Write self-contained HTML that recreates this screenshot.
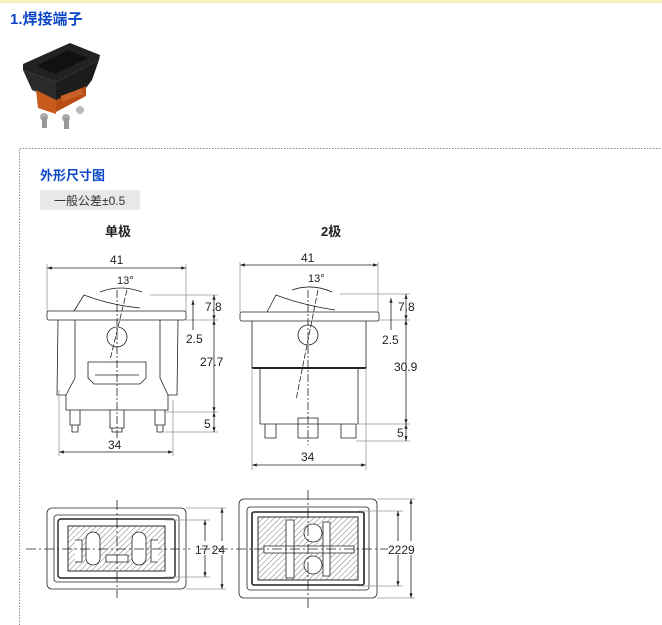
<!DOCTYPE html>
<html><head><meta charset="utf-8"><style>
html,body{margin:0;padding:0;background:#fff;width:662px;height:625px;overflow:hidden}
svg{display:block}
text{font-family:"Liberation Sans","Noto Sans CJK SC",sans-serif}
</style></head><body>
<svg width="662" height="625" viewBox="0 0 662 625" xmlns="http://www.w3.org/2000/svg">
<defs>
<pattern id="h" width="4" height="4" patternUnits="userSpaceOnUse" patternTransform="rotate(45)"><line x1="0" y1="0" x2="0" y2="4" stroke="#444" stroke-width="0.7"/></pattern>
<marker id="a" markerWidth="6" markerHeight="6" refX="6" refY="3" orient="auto-start-reverse"><path d="M0,1 L6,3 L0,5 z" fill="#222"/></marker>
</defs>
<rect x="0" y="0" width="662" height="3" fill="#f8eec0"/>
<text x="10" y="24" font-size="15" font-weight="bold" fill="#0b47c8">1.焊接端子</text>
<!-- photo -->
<g>
<polygon points="23,64 70,43 100,55 99,60 56,82 23,70" fill="#222"/>
<polygon points="36,66 68,50 88,58 56,74" fill="#111"/>
<polygon points="23,70 56,82 56,100 32,90" fill="#2a2a2a"/>
<polygon points="56,82 99,60 92,80 86,88 56,102" fill="#1c1c1c"/>
<polygon points="36,90 56,100 56,114 38,108" fill="#c85a1c"/>
<polygon points="56,100 86,86 86,96 56,112" fill="#b84e14"/>
<rect x="61" y="92" width="22" height="6" fill="#c86028" transform="rotate(-20 72 95)"/>
<circle cx="44" cy="117" r="4" fill="#aaa"/><circle cx="66" cy="118" r="4" fill="#aaa"/><circle cx="80" cy="110" r="4" fill="#bbb"/>
<rect x="42" y="117" width="5" height="11" fill="#999"/><rect x="64" y="118" width="5" height="11" fill="#999"/>
</g>
<path d="M19.5,625 V148.5 H662" fill="none" stroke="#888" stroke-dasharray="1.5,1.5"/>
<text x="40" y="180" font-size="13" font-weight="bold" fill="#0b47c8">外形尺寸图</text>
<rect x="40" y="190" width="100" height="20" fill="#e8e8e8"/>
<text x="54" y="205" font-size="12" fill="#333">一般公差±0.5</text>
<text x="105" y="236" font-size="13" font-weight="bold" fill="#222">单极</text>
<text x="321" y="236" font-size="13" font-weight="bold" fill="#222">2极</text>

<g fill="none" stroke="#222" stroke-width="0.8" font-size="12">
<!-- LEFT SIDE VIEW -->
<line x1="47" y1="268" x2="186" y2="268" marker-start="url(#a)" marker-end="url(#a)"/>
<line x1="47" y1="264" x2="47" y2="312" stroke="#999"/><line x1="186" y1="264" x2="186" y2="312" stroke="#999"/>
<text x="110" y="264" fill="#222" stroke="none">41</text>
<text x="117" y="284" fill="#222" stroke="none" font-size="11">13°</text>
<path d="M100,292 Q120,284 142,292"/>
<rect x="47" y="311" width="139" height="9" rx="2"/>
<path d="M74,311 L84,295 Q110,305 140,308"/>
<path d="M58,320 L57,395 L66,395 L66,410 L168,410 L168,395 L177,395 L178,320"/>
<path d="M66,395 L75,378 L75,320 M168,395 L160,378 L160,320"/>
<path d="M88,362 H146 V378 L140,384 H94 L88,378 Z"/><path d="M95,375 H139"/>
<circle cx="117" cy="337" r="10"/>
<line x1="117" y1="290" x2="117" y2="440" stroke-dasharray="8,2,2,2"/>
<line x1="127" y1="290" x2="110" y2="360" stroke-dasharray="6,2"/>
<path d="M70,410 V425 H80 V410 M110,410 V428 H124 V410 M155,410 V425 H165 V410"/>
<path d="M72,425 V432 H78 V425 M112,428 V432 H122 V428 M157,425 V432 H163 V425"/>
<line x1="59" y1="452" x2="173" y2="452" marker-start="url(#a)" marker-end="url(#a)"/>
<line x1="59" y1="390" x2="59" y2="456" stroke="#999"/><line x1="173" y1="400" x2="173" y2="456" stroke="#999"/>
<text x="108" y="449" fill="#222" stroke="none">34</text>
<line x1="150" y1="295" x2="218" y2="295" stroke="#999"/><line x1="186" y1="320" x2="218" y2="320" stroke="#999"/>
<line x1="165" y1="412" x2="218" y2="412" stroke="#999"/><line x1="165" y1="432" x2="218" y2="432" stroke="#999"/>
<line x1="214" y1="295" x2="214" y2="320" marker-start="url(#a)" marker-end="url(#a)"/>
<line x1="214" y1="320" x2="214" y2="412" marker-start="url(#a)" marker-end="url(#a)"/>
<line x1="214" y1="412" x2="214" y2="432" marker-start="url(#a)" marker-end="url(#a)"/>
<line x1="193" y1="300" x2="193" y2="330" marker-start="url(#a)"/>
<text x="205" y="311" fill="#222" stroke="none">7.8</text>
<text x="186" y="343" fill="#222" stroke="none">2.5</text>
<text x="200" y="366" fill="#222" stroke="none">27.7</text>
<text x="204" y="428" fill="#222" stroke="none">5</text>

<!-- RIGHT SIDE VIEW -->
<line x1="240" y1="265" x2="378" y2="265" marker-start="url(#a)" marker-end="url(#a)"/>
<line x1="240" y1="262" x2="240" y2="312" stroke="#999"/><line x1="378" y1="262" x2="378" y2="312" stroke="#999"/>
<text x="301" y="262" fill="#222" stroke="none">41</text>
<text x="308" y="282" fill="#222" stroke="none" font-size="11">13°</text>
<path d="M292,290 Q312,283 332,292"/>
<rect x="240" y="312" width="139" height="9" rx="2"/>
<path d="M267,312 L276,295 Q302,305 335,310"/>
<path d="M252,321 L252,368 H366 V321"/><line x1="252" y1="368" x2="366" y2="368" stroke-width="2"/>
<path d="M260,368 V424 H358 V368"/>
<circle cx="308" cy="335" r="10"/>
<line x1="308" y1="290" x2="308" y2="445" stroke-dasharray="8,2,2,2"/>
<line x1="318" y1="290" x2="296" y2="400" stroke-dasharray="6,2"/>
<path d="M265,424 V438 H276 V424 M298,418 H318 V438 H298 Z M341,424 V438 H356 V424"/>
<line x1="252" y1="465" x2="366" y2="465" marker-start="url(#a)" marker-end="url(#a)"/>
<line x1="252" y1="368" x2="252" y2="470" stroke="#999"/><line x1="366" y1="368" x2="366" y2="470" stroke="#999"/>
<text x="301" y="461" fill="#222" stroke="none">34</text>
<line x1="340" y1="294" x2="410" y2="294" stroke="#999"/><line x1="379" y1="320" x2="410" y2="320" stroke="#999"/>
<line x1="356" y1="424" x2="410" y2="424" stroke="#999"/><line x1="356" y1="441" x2="410" y2="441" stroke="#999"/>
<line x1="406" y1="294" x2="406" y2="320" marker-start="url(#a)" marker-end="url(#a)"/>
<line x1="406" y1="320" x2="406" y2="424" marker-start="url(#a)" marker-end="url(#a)"/>
<line x1="406" y1="424" x2="406" y2="441" marker-start="url(#a)" marker-end="url(#a)"/>
<line x1="391" y1="298" x2="391" y2="330" marker-start="url(#a)"/>
<text x="398" y="311" fill="#222" stroke="none">7.8</text>
<text x="382" y="344" fill="#222" stroke="none">2.5</text>
<text x="394" y="371" fill="#222" stroke="none">30.9</text>
<text x="397" y="437" fill="#222" stroke="none">5</text>

<!-- BOTTOM LEFT -->
<rect x="47" y="508" width="139" height="81" rx="5"/>
<rect x="54" y="515" width="125" height="67" rx="3"/>
<rect x="58" y="519" width="117" height="59" rx="3" stroke-width="1.4"/>
<rect x="68" y="526" width="97" height="45" fill="url(#h)"/>
<rect x="68" y="526" width="97" height="45"/>
<rect x="86" y="532" width="14" height="33" rx="7" fill="#fff"/>
<rect x="132" y="532" width="14" height="33" rx="7" fill="#fff"/>
<path d="M106,555 H128 V562 H106 Z" fill="#fff"/>
<path d="M75,540 H82 V562 H75" fill="#fff"/><path d="M158,540 H151 V562 H158" fill="#fff"/>
<line x1="26" y1="549" x2="190" y2="549" stroke-dasharray="10,3,2,3"/>
<line x1="117" y1="500" x2="117" y2="598" stroke-dasharray="10,3,2,3"/>
<line x1="165" y1="520" x2="210" y2="520" stroke="#999"/><line x1="165" y1="577" x2="210" y2="577" stroke="#999"/>
<line x1="186" y1="508" x2="226" y2="508" stroke="#999"/><line x1="186" y1="589" x2="226" y2="589" stroke="#999"/>
<line x1="205" y1="520" x2="205" y2="577" marker-start="url(#a)" marker-end="url(#a)"/>
<line x1="222" y1="508" x2="222" y2="589" marker-start="url(#a)" marker-end="url(#a)"/>
<rect x="195" y="541" width="33" height="14" fill="#fff" stroke="none"/>
<text x="195" y="554" fill="#222" stroke="none">17 24</text>

<!-- BOTTOM RIGHT -->
<rect x="239" y="499" width="138" height="99" rx="5"/>
<rect x="247" y="507" width="122" height="83" rx="3"/>
<rect x="252" y="512" width="112" height="73" rx="2" stroke-width="1.6"/>
<rect x="258" y="517" width="100" height="63" fill="url(#h)"/>
<rect x="258" y="517" width="100" height="63"/>
<path d="M264,546 H354 V553 H264 Z M286,520 H294 V578 H286 Z M323,522 H330 V576 H323 Z" fill="#fff"/>
<circle cx="313" cy="533" r="9" fill="#fff"/><circle cx="313" cy="565" r="9" fill="#fff"/>
<line x1="200" y1="549" x2="390" y2="549" stroke-dasharray="10,3,2,3"/>
<line x1="308" y1="490" x2="308" y2="608" stroke-dasharray="10,3,2,3"/>
<line x1="358" y1="511" x2="403" y2="511" stroke="#999"/><line x1="358" y1="586" x2="403" y2="586" stroke="#999"/>
<line x1="377" y1="499" x2="415" y2="499" stroke="#999"/><line x1="377" y1="598" x2="415" y2="598" stroke="#999"/>
<line x1="398" y1="511" x2="398" y2="586" marker-start="url(#a)" marker-end="url(#a)"/>
<line x1="411" y1="499" x2="411" y2="598" marker-start="url(#a)" marker-end="url(#a)"/>
<rect x="388" y="541" width="30" height="14" fill="#fff" stroke="none"/>
<text x="388" y="554" fill="#222" stroke="none">2229</text>
</g>
</svg>
</body></html>
